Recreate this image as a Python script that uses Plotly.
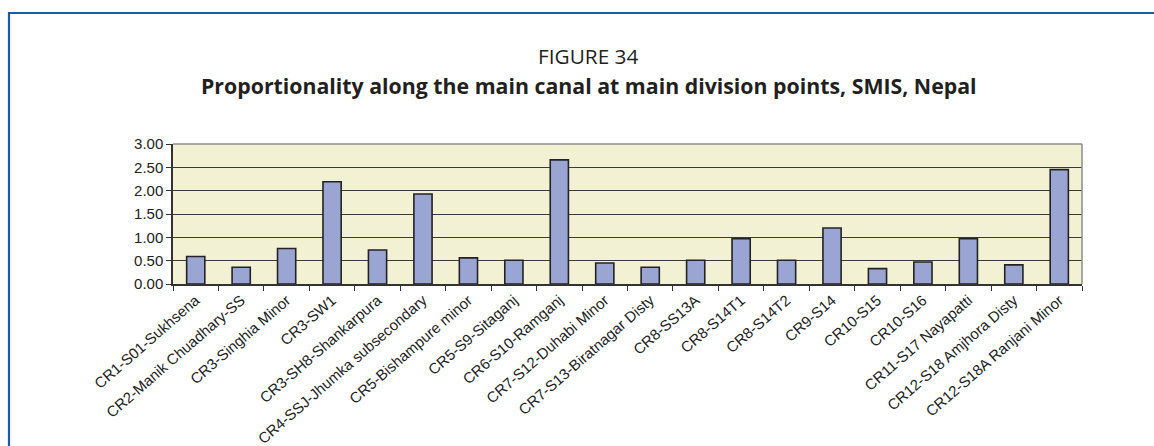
import plotly.graph_objects as go

categories = [
    "CR1-S01-Sukhsena", "CR2-Manik Chuadhary-SS", "CR3-Singhia Minor", "CR3-SW1",
    "CR3-SH8-Shankarpura", "CR4-SSJ-Jhumka subsecondary", "CR5-Bishampure minor",
    "CR5-S9-Sitaganj", "CR6-S10-Ramganj", "CR7-S12-Duhabi Minor",
    "CR7-S13-Biratnagar Disty", "CR8-SS13A", "CR8-S14T1", "CR8-S14T2", "CR9-S14",
    "CR10-S15", "CR10-S16", "CR11-S17 Nayapatti", "CR12-S18 Amjhora Disty",
    "CR12-S18A Ranjani Minor",
]
values = [0.59, 0.36, 0.76, 2.19, 0.73, 1.93, 0.56, 0.51, 2.66, 0.45,
          0.36, 0.51, 0.97, 0.51, 1.20, 0.33, 0.47, 0.97, 0.41, 2.45]
y_ticks = [0, 0.5, 1.0, 1.5, 2.0, 2.5, 3.0]

W, H = 1154, 446
L, R, T, B = 173, 1082, 144, 284

def px(x):
    return (x - L) / (R - L)

def py(y):
    return (B - y) / (B - T)

fig = go.Figure(go.Bar(
    x=categories, y=values,
    marker=dict(color="#9BA5D3", line=dict(color="#232323", width=1.6)),
    width=0.4,
))

frame_col = "#1C5BA6"
shapes = [
    dict(type="line", xref="paper", yref="paper", x0=px(9), x1=px(9), y0=py(12), y1=py(470),
         line=dict(color=frame_col, width=2.2)),
    dict(type="line", xref="paper", yref="paper", x0=px(8), x1=px(1170), y0=py(13), y1=py(13),
         line=dict(color=frame_col, width=2.2)),
    dict(type="line", xref="paper", yref="paper", x0=0, x1=1, y0=1, y1=1,
         line=dict(color="#8C8C8C", width=1.5)),
    dict(type="line", xref="paper", yref="paper", x0=1, x1=1, y0=0, y1=1,
         line=dict(color="#8C8C8C", width=1.5)),
]

annotations = [
    dict(text="FIGURE 34", xref="paper", yref="paper", x=px(588.5), y=py(56),
         xanchor="center", yanchor="middle", showarrow=False, borderpad=0,
         font=dict(family="Open Sans", size=20.8, color="#231F20")),
    dict(text="<b>Proportionality along the main canal at main division points, SMIS, Nepal</b>",
         xref="paper", yref="paper", x=px(588.5), y=py(86),
         xanchor="center", yanchor="middle", showarrow=False, borderpad=0,
         font=dict(family="Open Sans", size=21.3, color="#231F20")),
]

fig.update_layout(
    width=W, height=H,
    margin=dict(l=L, r=W - R, t=T, b=H - B, pad=0, autoexpand=False),
    paper_bgcolor="white", plot_bgcolor="#F3F1D3",
    showlegend=False, shapes=shapes, annotations=annotations,
    bargap=0.6,
)
fig.update_xaxes(
    type="category", showgrid=False, tickson="boundaries", automargin=False,
    ticks="outside", ticklen=5, tickcolor="#333333",
    showline=True, linecolor="#333333", linewidth=1.5,
    tickangle=-41, tickfont=dict(family="Liberation Sans", size=15, color="#222222"),
)
fig.update_yaxes(
    range=[0, 3], tickvals=y_ticks, tickformat=".2f", automargin=False,
    ticks="outside", ticklen=5, tickcolor="#333333",
    showline=True, linecolor="#333333", linewidth=1.5,
    showgrid=True, gridcolor="#3A3A3A", gridwidth=1,
    zeroline=False,
    tickfont=dict(family="Liberation Sans", size=15, color="#222222"),
)

fig.write_html("out.html")
